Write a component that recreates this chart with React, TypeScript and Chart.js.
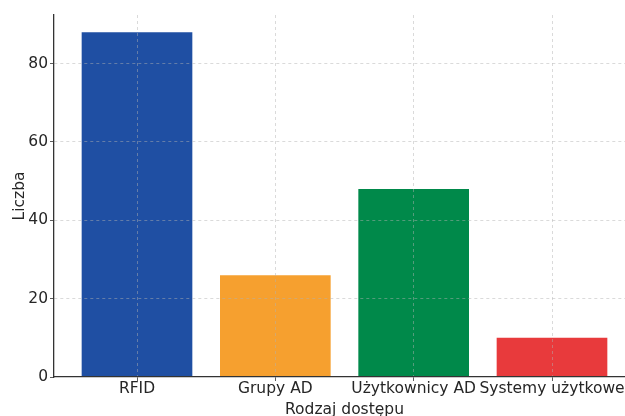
import React, { useEffect, useRef } from "react";
import { Chart, registerables } from "chart.js";

Chart.register(...registerables);

const categories = ["RFID", "Grupy AD", "Użytkownicy AD", "Systemy użytkowe"];
const values = [88, 26, 48, 10];
const barColors = ["#1f4fa3", "#f6a02f", "#00894a", "#e83a3c"];
const yTicks = [0, 20, 40, 60, 80];

const W = 640;
const H = 418;

export default function App() {
  const ref = useRef<HTMLCanvasElement | null>(null);
  useEffect(() => {
    if (!ref.current) return;
    const text = "#262626";
    const font = { family: "DejaVu Sans", size: 15.5, lineHeight: 1 };
    const gridColor = "rgba(176,176,176,0.6)";
    const chart = new Chart(ref.current, {
      type: "bar",
      data: {
        datasets: [
          {
            data: values.map((v, i) => ({ x: i, y: v })),
            backgroundColor: barColors,
            borderWidth: 0,
            barPercentage: 0.8,
            categoryPercentage: 1,
          },
        ],
      },
      options: {
        animation: false,
        responsive: false,
        devicePixelRatio: 1,
        layout: { padding: { top: 15, right: 5, left: 0, bottom: 0 } },
        plugins: { legend: { display: false }, tooltip: { enabled: false } },
        scales: {
          x: {
            type: "linear",
            offset: false,
            min: -0.6,
            max: 3.6,
            z: 1,
            afterBuildTicks: (s: any) => {
              s.ticks = categories.map((_, i) => ({ value: i }));
            },
            afterFit: (s: any) => {
              s.height = H - 377;
            },
            ticks: {
              color: text,
              font,
              padding: 0,
              autoSkip: false,
              maxRotation: 0,
              z: 1,
              callback: (v: any) => categories[Math.round(Number(v))] ?? "",
            },
            grid: {
              offset: false,
              z: 1,
              color: gridColor,
              tickColor: "#333",
              tickLength: 4,
              tickBorderDash: [],
              lineWidth: 0.8,
            },
            border: { display: true, z: 2, color: "#333", width: 1.3, dash: [3, 3] },
            title: {
              display: true,
              text: "Rodzaj dostępu",
              color: text,
              font,
              padding: { top: 0, bottom: 0 },
            },
          },
          y: {
            min: 0,
            max: 92.4,
            z: 1,
            afterBuildTicks: (s: any) => {
              s.ticks = yTicks.map((v) => ({ value: v }));
            },
            afterFit: (s: any) => {
              s.width = 54;
            },
            ticks: { color: text, font, padding: 2, z: 1 },
            grid: {
              offset: false,
              z: 1,
              color: (c: any) => (c.tick && c.tick.value === 0 ? "rgba(0,0,0,0)" : gridColor),
              tickColor: "#333",
              tickLength: 4,
              tickBorderDash: [],
              lineWidth: 0.8,
            },
            border: { display: true, z: 2, color: "#333", width: 1.3, dash: [3, 3] },
            title: {
              display: true,
              text: "Liczba",
              color: text,
              font,
              padding: { top: 12, bottom: 0 },
            },
          },
        },
      },
    });
    return () => chart.destroy();
  }, []);
  return (
    <div
      style={{
        position: "absolute",
        left: 0,
        top: 0,
        width: 625,
        height: 416,
        overflow: "hidden",
        background: "#fff",
      }}
    >
      <canvas ref={ref} width={W} height={H} style={{ width: W, height: H, display: "block" }} />
    </div>
  );
}
